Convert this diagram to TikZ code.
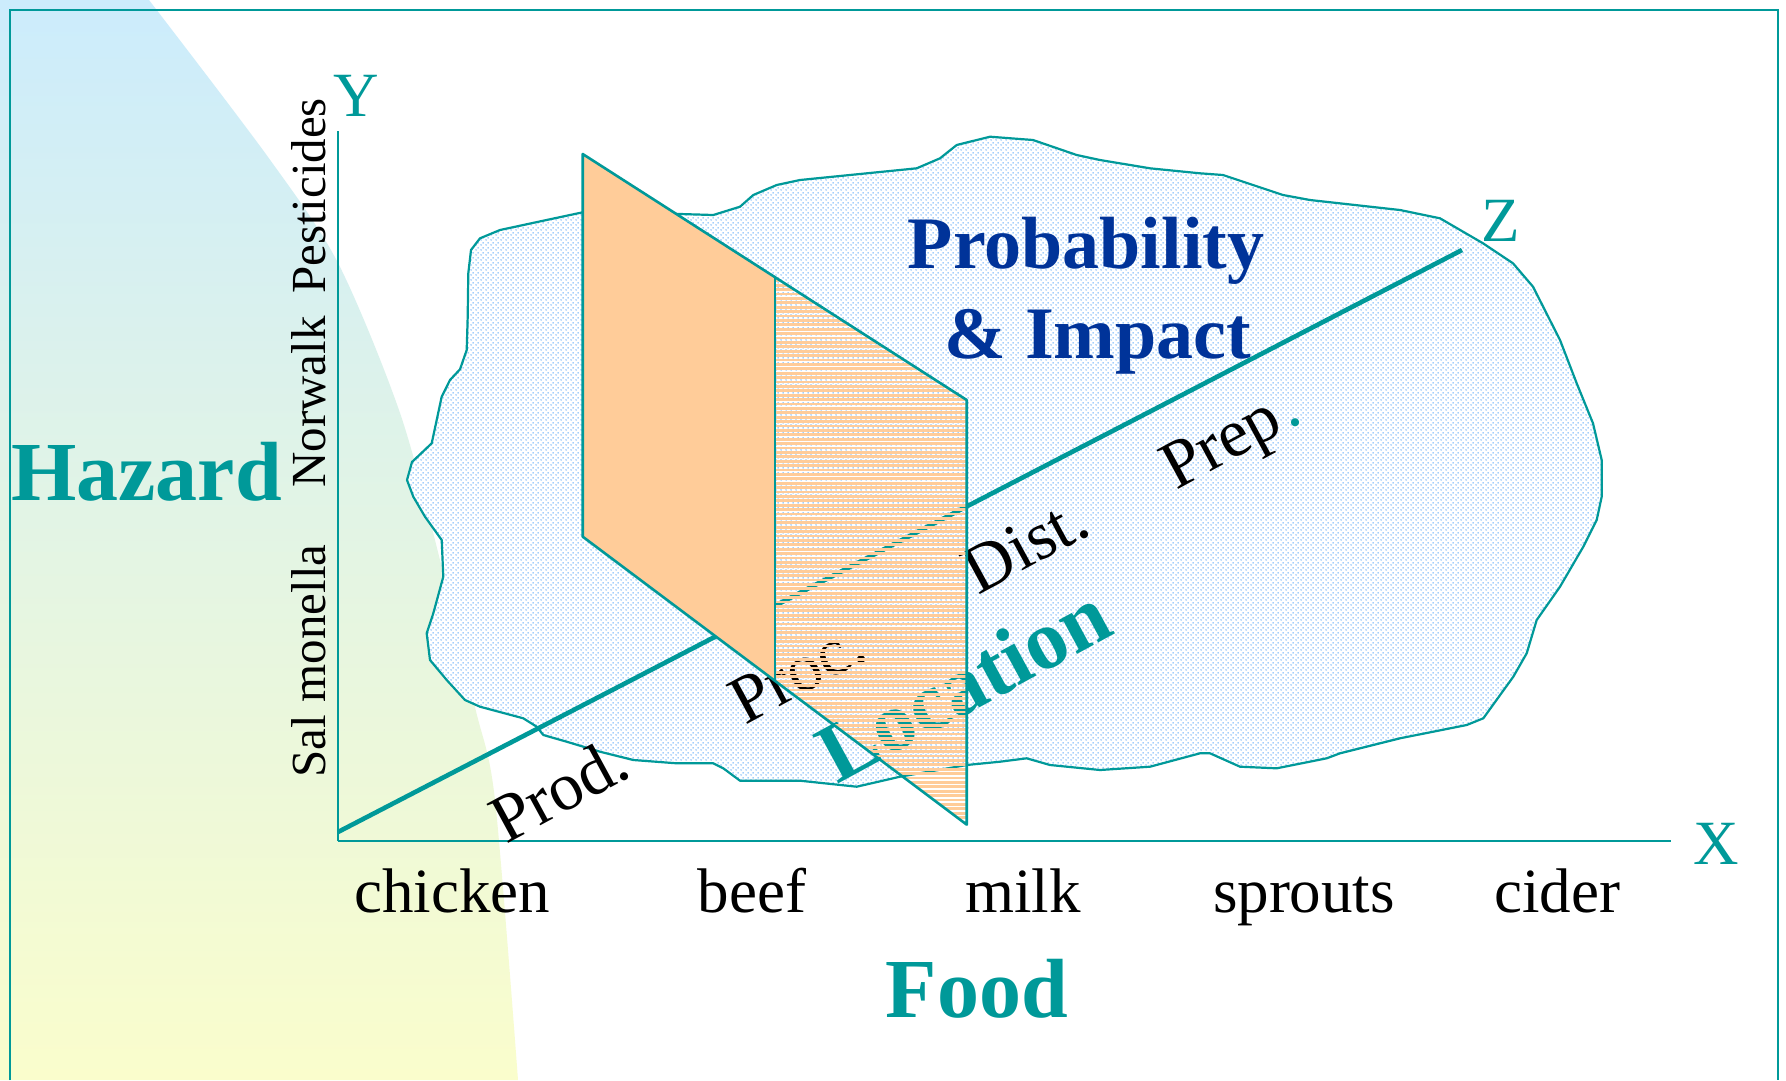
\documentclass[tikz,border=0pt]{standalone}
\usepackage{fontspec}
\setmainfont{Liberation Serif}
\usetikzlibrary{patterns}
\definecolor{tealc}{RGB}{0,153,153}
\definecolor{pibl}{RGB}{0,51,153}
\definecolor{orng}{RGB}{255,204,153}
\definecolor{dotbl}{RGB}{130,190,250}
\definecolor{bgblue}{RGB}{204,236,252}
\definecolor{bgyel}{RGB}{250,253,204}
\pgfdeclareverticalshading{bgshade}{100bp}{color(0bp)=(bgyel); color(25bp)=(bgyel); color(75bp)=(bgblue); color(100bp)=(bgblue)}
\pgfdeclarepatternformonly{cdots}{\pgfqpoint{0pt}{0pt}}{\pgfqpoint{5pt}{5pt}}{\pgfqpoint{5pt}{5pt}}{%
  \pgfpathcircle{\pgfqpoint{1.25pt}{1.25pt}}{1pt}%
  \pgfpathcircle{\pgfqpoint{3.75pt}{3.75pt}}{1pt}%
  \pgfusepath{fill}}
\tikzset{
  xlbl/.style={font=\fontsize{63}{70}\selectfont, inner sep=0pt, anchor=base},
  zlbl/.style={font=\fontsize{68}{74}\selectfont, inner sep=0pt, anchor=base, rotate=28.5},
  ylbl/.style={font=\fontsize{49}{55}\selectfont, inner sep=0pt, anchor=base, rotate=90},
  axl/.style={font=\fontsize{63}{70}\selectfont, inner sep=0pt, text=tealc},
  bigt/.style={font=\fontsize{84}{90}\selectfont\bfseries, inner sep=0pt, text=tealc},
  pibt/.style={font=\fontsize{74}{80}\selectfont\bfseries, inner sep=0pt, text=pibl, anchor=base},
  thinax/.style={draw=tealc, line width=2.2pt},
  planeedge/.style={draw=tealc, line width=2.6pt, line join=round},
}
\begin{document}
\begin{tikzpicture}[x=1pt,y=-1pt]
\useasboundingbox (0,0) rectangle (1786,1080);
\fill[white] (0,0) rectangle (1786,1080);
% background gradient
\shade[shading=bgshade] (0,0) -- plot[smooth] coordinates {(149,0) (268,157) (338,263) (400,413) (440,560) (475,707) (495,800) (518,1080)} -- (0,1080) -- cycle;
% frame
\coordinate (F1) at (10,1080);
\coordinate (F2) at (10,10);
\coordinate (F3) at (1778,10);
\coordinate (F4) at (1778,1080);
\draw[tealc, line width=2pt] (F1) -- (F2) -- (F3) -- (F4);
% axes
\coordinate (O) at (338,841);
\coordinate (Ytop) at (338,131);
\coordinate (Xend) at (1671,841);
\coordinate (Z0) at (338,832);
\coordinate (Zend) at (1462,250);
\draw[thinax] (O) -- (Ytop);
\draw[thinax] (O) -- (Xend);
% cloud
\draw[draw=tealc, line width=2.2pt, line join=round, preaction={fill=white}, pattern=cdots, pattern color=dotbl]
 (465,700) -- (446.7,680) -- (430,660) -- (426.7,633.3) -- (433.3,613.3) -- (443.3,576.7) -- (441.7,540) -- (425,516.7) -- (413.3,496.7) -- (407,480) -- (412,462) -- (431.7,443.3) -- (441.7,396.7) -- (450,380) -- (460,369.3) -- (466.7,350) -- (467.7,316.7) -- (468.3,273.3) -- (471,250) -- (480,238.3) -- (500,230) -- (543.3,220.7) -- (582.7,212.3) -- (640,213) -- (680,214) -- (713.3,215) -- (740,206.7) -- (753.3,195) -- (776.7,185) -- (800,180) -- (916.7,168.3) -- (940,158.3) -- (956.7,145) -- (990,136.7) -- (1033,140) -- (1076.7,155) -- (1100,160) -- (1150,168.3) -- (1200,173.3) -- (1223,175) -- (1283,195) -- (1310,200) -- (1400,210) -- (1440,218.3) -- (1483,243.3) -- (1513,263.3) -- (1533,286.7) -- (1560,340) -- (1576.7,383.3) -- (1593,423.3) -- (1601.7,460) -- (1601.7,496.7) -- (1596.7,520) -- (1583.3,546.7) -- (1560,586.7) -- (1536.7,620) -- (1526.7,653.3) -- (1513.3,676.7) -- (1483.3,718.3) -- (1466.7,725) -- (1400,738.3) -- (1340,753.3) -- (1326.7,758.3) -- (1276.7,768.3) -- (1240,766.7) -- (1210,753.3) -- (1200,753.3) -- (1150,766.7) -- (1100,770) -- (1050,765) -- (1026.7,758.3) -- (1000,761.7) -- (966.7,765) -- (900,776.7) -- (856.7,786.7) -- (800,780.7) -- (740,780.7) -- (723.3,768.3) -- (713.3,763.3) -- (676.7,763.3) -- (633.3,760) -- (600,751.7) -- (566.7,741.7) -- (543.3,735) -- (536.7,726.7) -- (523.3,718.3) -- (480,706.7) -- cycle;
% Z axis
\draw[tealc, line width=4.6pt] (Z0) -- (Zend);
% axis letters
\node[axl] (Yl) at (356,96) {Y};
\node[axl] (Xl) at (1716,844) {X};
\node[axl] (Zl) at (1501,221) {Z};
% Y labels
\node[ylbl] (pest) at (325,196) {Pesticides};
\node[ylbl] (norw) at (325,402) {Norwalk};
\node[ylbl] (salm) at (325,661) {Sal monella};
% X labels
\node[xlbl] (chk) at (452,912) {chicken};
\node[xlbl] (beef) at (752,912) {beef};
\node[xlbl] (milk) at (1023,912) {milk};
\node[xlbl] (spr) at (1304,912) {sprouts};
\node[xlbl] (cid) at (1557,912) {cider};
% titles
\node[bigt, anchor=base] (food) at (977,1017) {Food};
\node[bigt, anchor=base west] (haz) at (11,500) {Hazard};
\node[pibt] (prob) at (1086,268) {Probability};
\node[pibt] (imp) at (1098,358) {\& Impact};
% Z labels
\node[zlbl] (prod) at (570,810) {Prod.};
\node[zlbl] (proc) at (808,692) {Proc.};
\node[zlbl] (dist) at (1036,564) {Dist.};
\node[zlbl] (prep) at (1240,456) {Prep\kern4pt{\color{tealc}.}};
\node[bigt, anchor=base, rotate=28.5] (loc) at (977,709) {Location};
% planes
\coordinate (P1) at (582.7,154);
\coordinate (P2) at (966.7,400);
\coordinate (P3) at (966.7,824.6);
\coordinate (P4) at (582.7,536.7);
\coordinate (M1) at (775,277.2);
\coordinate (M2) at (775,680.9);
\fill[orng] (P1) -- (M1) -- (M2) -- (P4) -- cycle;
\begin{scope}
\clip (M1) -- (P2) -- (P3) -- (M2) -- cycle;
\foreach \yy in {272,276.4,...,832} \draw[orng, line width=2.8pt] (770,\yy) -- (972,\yy);
\end{scope}
\draw[planeedge] (P1) -- (P2) -- (P3) -- (P4) -- cycle;
\draw[tealc, line width=2pt] (M1) -- (M2);
\end{tikzpicture}
\end{document}
